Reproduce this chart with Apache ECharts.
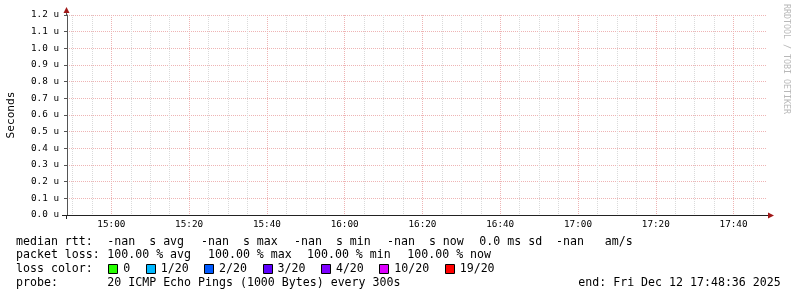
<!DOCTYPE html>
<html><head><meta charset="utf-8">
<script src="https://cdn.jsdelivr.net/npm/echarts@6/dist/echarts.min.js"></script>
<style>html,body{margin:0;padding:0;background:#fff}#c{width:797px;height:297px}</style>
</head><body><div id="c"></div>
<script>
// ---- data ----
const timeStart = '14:48:36';
const timeEnd = '17:48:36';
const xTickLabels = ['15:00','15:20','15:40','16:00','16:20','16:40','17:00','17:20','17:40'];
const yMaxMicro = 1.2;
const yStepMicro = 0.1;
const medianRtt = []; // no samples: all values are -nan
const rttStatNames = ['avg','max','min','now'];
const rttStatValues = ['-nan','-nan','-nan','-nan'];
const rttSd = '0.0';
const rttAms = '-nan';
const lossStatNames = ['avg','max','min','now'];
const lossStatValues = ['100.00','100.00','100.00','100.00'];
const lossLabels = ['0','1/20','2/20','3/20','4/20','10/20','19/20'];
const lossColors = ['#26ff00','#00b8ff','#0059ff','#5e00ff','#7e00ff','#dd00ff','#ff0000'];
const probeText = '20 ICMP Echo Pings (1000 Bytes) every 300s';
const endText = 'end: Fri Dec 12 17:48:36 2025';

// ---- helpers ----
function toSec(s){const p=s.split(':').map(Number);return p[0]*3600+p[1]*60+(p[2]||0);}
function fmt(v){const h=Math.floor(v/3600),m=Math.floor((v%3600)/60);return String(h).padStart(2,'0')+':'+String(m).padStart(2,'0');}
const xMin = toSec(timeStart), xMax = toSec(timeEnd);
const majorVals = xTickLabels.map(toSec);
const minorVals = [];
for (let t = Math.ceil(xMin/300)*300; t <= xMax; t += 300) if (majorVals.indexOf(t) < 0) minorVals.push(t);

const MONO = 'DejaVu Sans Mono';
const FS = 11.6;
const L1 = 241.5, L2 = 255, L3 = 269, L4 = 282.7;
const gfx = [];
function txt(x, y, s, extra){ gfx.push(Object.assign({type:'text', x:x, y:y, style:{text:s, font: FS+'px "'+MONO+'"', fill:'#000', textVerticalAlign:'middle', textAlign:'left'}}, extra||{})); }

// line 1
txt(16, L1, 'median rtt:');
const rttX = [107.3, 201, 294, 387];
rttStatNames.forEach((n,i)=>txt(rttX[i], L1, rttStatValues[i]+'  s '+n));
txt(479.3, L1, rttSd+' ms sd');
txt(556, L1, rttAms+'   am/s');
// line 2
txt(16, L2, 'packet loss:');
const lossX = [107.3, 208, 307, 407.3];
lossStatNames.forEach((n,i)=>txt(lossX[i], L2, lossStatValues[i]+' % '+n));
// line 3
txt(16, L3, 'loss color:');
let bx = 108.3;
lossLabels.forEach((lab,i)=>{
  gfx.push({type:'rect', shape:{x:Math.round(bx)+0.5, y:264.5, width:9, height:9}, style:{fill:lossColors[i], stroke:'#000', lineWidth:1}});
  txt(bx+15, L3, lab);
  bx += 30.4 + 7*lab.length;
});
// line 4
txt(16, L4, 'probe:');
txt(107.3, L4, probeText);
txt(578.3, L4, endText);
// watermark
gfx.push({type:'text', x:786, y:4, rotation:-Math.PI/2, style:{text:'RRDTOOL / TOBI OETIKER', font:'8.3px "'+MONO+'"', fill:'#b8b8b8', textAlign:'left', textVerticalAlign:'middle'}});
// axis arrows and extensions
gfx.push({type:'line', shape:{x1:62, y1:215.5, x2:67, y2:215.5}, style:{stroke:'#222', lineWidth:1}, z:10});
gfx.push({type:'line', shape:{x1:66.5, y1:215, x2:66.5, y2:219}, style:{stroke:'#222', lineWidth:1}, z:10});
gfx.push({type:'line', shape:{x1:767, y1:215.5, x2:769, y2:215.5}, style:{stroke:'#222', lineWidth:1}, z:10});
gfx.push({type:'line', shape:{x1:66.5, y1:15, x2:66.5, y2:12}, style:{stroke:'#555', lineWidth:1}, z:10});
gfx.push({type:'polygon', shape:{points:[[768,212.5],[774,215.5],[768,218.5]]}, style:{fill:'#a01818'}, z:11});
gfx.push({type:'polygon', shape:{points:[[63.5,13],[66.5,7],[69.5,13]]}, style:{fill:'#a01818'}, z:11});

const chart = echarts.init(document.getElementById('c'), null, {renderer:'canvas'});
chart.setOption({
  backgroundColor:'#ffffff',
  animation:false,
  grid:{left:67, top:15, width:700, height:200, containLabel:false, outerBoundsMode:'none'},
  xAxis:[{
    type:'value', min:xMin, max:xMax, position:'bottom',
    axisLine:{show:true, onZero:false, lineStyle:{color:'#222', width:1}},
    axisTick:{show:false, customValues:majorVals},
    axisLabel:{customValues:majorVals, formatter:fmt, color:'#000', fontFamily:MONO, fontSize:9.3, margin:5},
    splitLine:{show:true, lineStyle:{color:'#eeb4b4', type:[1,1], width:1}},
    z:3
  },{
    type:'value', min:xMin, max:xMax, position:'top',
    axisLine:{show:false}, axisLabel:{show:false, customValues:minorVals},
    axisTick:{show:false, customValues:minorVals},
    splitLine:{show:true, lineStyle:{color:'#dadada', type:[1,1], width:1}},
    z:2
  }],
  yAxis:{
    type:'value', min:0, max:yMaxMicro, interval:yStepMicro,
    name:'Seconds', nameLocation:'middle', nameRotate:90, nameGap:50,
    nameTextStyle:{fontFamily:MONO, fontSize:11.2, color:'#000'},
    axisLine:{show:true, lineStyle:{color:'#555', width:1}},
    axisTick:{show:true, length:3, lineStyle:{color:'#555'}},
    axisLabel:{formatter:v=>v.toFixed(1)+' u', color:'#000', fontFamily:MONO, fontSize:9.3, margin:8},
    splitLine:{show:true, lineStyle:{color:'#eeb4b4', type:[1,1], width:1}}
  },
  series:[{type:'line', name:'median rtt', data:medianRtt, showSymbol:false}],
  graphic:gfx
});
</script></body></html>
